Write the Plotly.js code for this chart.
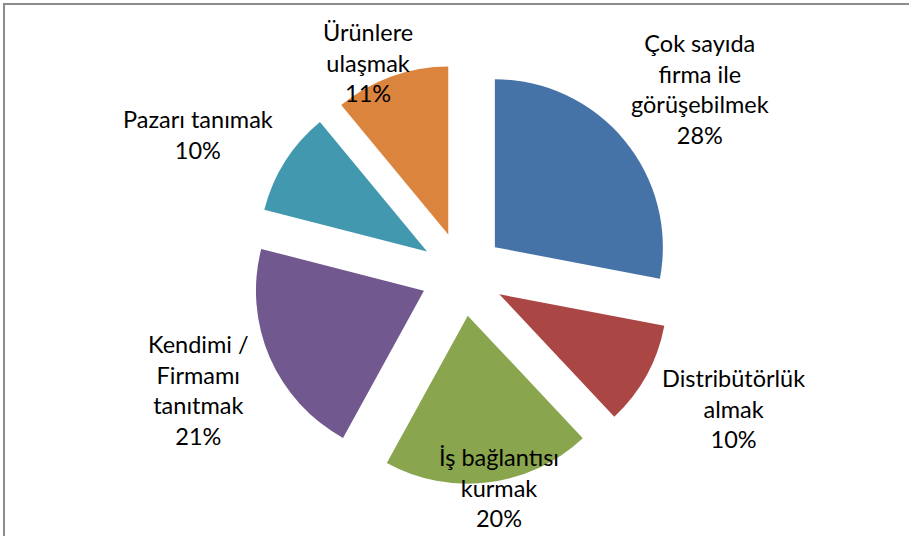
<!DOCTYPE html>
<html>
<head>
<meta charset="utf-8">
<script src="https://cdn.plot.ly/plotly-3.0.1.min.js"></script>
<style>html,body{margin:0;padding:0;background:#fff;}#chart{width:909px;height:536px;}</style>
</head>
<body>
<div id="chart"></div>
<script>
// Data
const labels = ["Çok sayıda<br>firma ile<br>görüşebilmek", "Distribütörlük<br>almak", "İş bağlantısı<br>kurmak", "Kendimi /<br>Firmamı<br>tanıtmak", "Pazarı tanımak", "Ürünlere<br>ulaşmak"];
const values = [28, 10, 20, 21, 10, 11];
const colors = ["#4572A7", "#AA4643", "#89A54E", "#71588F", "#4198AF", "#DB843D"];

// Label placement (pixels in the 909x536 frame)
const W = 909, H = 536;
const labelPos = [[700, 89], [733, 408], [499, 487], [198, 390], [198, 134], [368, 62]];

const total = values.reduce((a, b) => a + b, 0);
const annotations = labels.map((l, i) => ({
  text: l + "<br>" + Math.round(values[i] / total * 100) + "%",
  xref: "paper", yref: "paper",
  x: labelPos[i][0] / W, y: 1 - labelPos[i][1] / H,
  xanchor: "center", yanchor: "middle",
  showarrow: false, align: "center",
  font: {family: "Lato, 'Noto Sans', sans-serif", size: 23.5, color: "#000"}
}));

const cy = 274, cx = 462.5, half = 210;
const trace = {
  type: "pie",
  labels: labels,
  values: values,
  sort: false,
  direction: "clockwise",
  rotation: 0,
  pull: values.map(() => 0.25),
  marker: {colors: colors, line: {width: 0}},
  textinfo: "none",
  hoverinfo: "none",
  domain: {x: [(cx - 300) / W, (cx + 300) / W], y: [1 - (cy + half) / H, 1 - (cy - half) / H]}
};

const layout = {
  width: W, height: H,
  margin: {l: 0, r: 0, t: 0, b: 0},
  showlegend: false,
  paper_bgcolor: "#fff",
  annotations: annotations,
  shapes: [{type: "rect", xref: "paper", yref: "paper", x0: 4 / W, x1: 1.02, y0: -0.02, y1: 1 - 4 / H,
            line: {color: "#8c8c8c", width: 2}}]
};

Plotly.newPlot("chart", [trace], layout, {displayModeBar: false, staticPlot: true});
</script>
</body>
</html>
